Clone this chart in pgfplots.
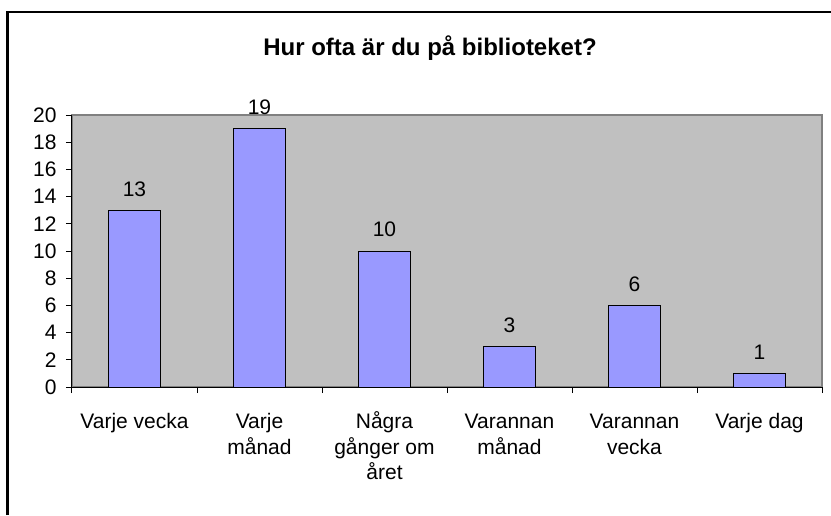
\documentclass[border=0pt]{standalone}
\usepackage{pgfplots}
\pgfplotsset{compat=1.18}
\usepackage{fontspec}
\setmainfont{Liberation Sans}
\definecolor{barfill}{HTML}{9999FF}
\definecolor{plotbg}{HTML}{C0C0C0}
\definecolor{plotedge}{HTML}{808080}
\begin{document}
\begin{tikzpicture}[x=1pt,y=1pt]
\useasboundingbox (0,0) rectangle (831,515);
\draw[line width=2.5pt] (7.5,0) -- (7.5,503) -- (831,503);
\node[font=\fontsize{24}{28}\selectfont\bfseries] at (430,467) {Hur ofta är du på biblioteket?};
\begin{axis}[
  at={(72pt,128pt)}, anchor=south west,
  scale only axis, width=750pt, height=272pt,
  xmin=0.5, xmax=6.5, ymin=0, ymax=20,
  axis x line*=bottom, axis y line*=left,
  axis line style={black, line width=1pt},
  axis background/.style={fill=plotbg, draw=plotedge, line width=1.5pt},
  clip=false,
  /pgf/number format/assume math mode=true,
  tick align=outside,
  major tick length=6pt, minor tick length=6pt,
  ytick={0,2,...,20},
  ytick style={black, line width=1pt},
  yticklabel style={xshift=-6pt},
  xtick={1,...,6},
  xticklabels={{\rule{0pt}{19pt}Varje vecka},{\rule{0pt}{19pt}Varje\\månad},{\rule{0pt}{19pt}Några\\gånger om\\året},{\rule{0pt}{19pt}Varannan\\månad},{\rule{0pt}{19pt}Varannan\\vecka},{\rule{0pt}{19pt}Varje dag}},
  major x tick style={draw=none},
  minor xtick={0.5,1.5,...,6.5},
  minor x tick style={black, line width=1pt},
  ticklabel style={font=\fontsize{21}{25.5}\selectfont},
  xticklabel style={align=center, yshift=-13pt},
  ybar, bar width=52pt,
  nodes near coords,
  nodes near coords style={font=\fontsize{21}{26}\selectfont, yshift=10pt},
]
\addplot[fill=barfill, draw=black, line width=1pt] coordinates {(1,13) (2,19) (3,10) (4,3) (5,6) (6,1)};
\end{axis}
\end{tikzpicture}
\end{document}
